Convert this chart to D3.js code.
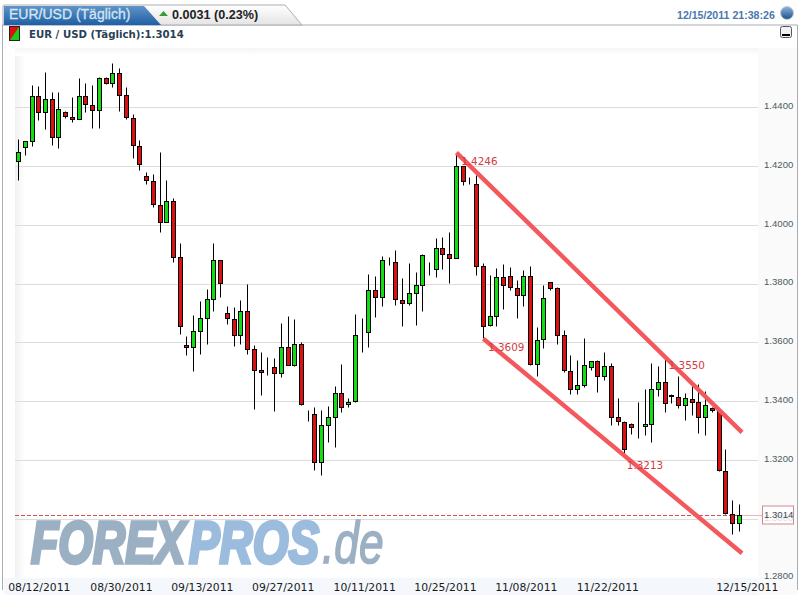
<!DOCTYPE html>
<html><head><meta charset="utf-8">
<script src="https://cdn.jsdelivr.net/npm/d3@7"></script>
<style>html,body{margin:0;padding:0;background:#fff;overflow:hidden}svg{display:block}</style>
</head><body><svg id="c" width="801" height="595"></svg>
<script>
const highs=[1.4292,1.4286,1.4475,1.4470,1.4519,1.4451,1.4451,1.4385,1.4434,1.4499,
1.4482,1.4475,1.4502,1.4502,1.4550,1.4533,1.4468,1.4377,1.4288,1.4178,
1.4174,1.4247,1.4151,1.4091,1.3938,1.3622,1.3693,1.3741,1.3783,1.3938,
1.3880,1.3722,1.3720,1.3744,1.3798,1.3591,1.3567,1.3550,1.3547,1.3666,
1.3690,1.3679,1.3601,1.3370,1.3380,1.3370,1.3384,1.3452,1.3525,1.3411,
1.3698,1.3683,1.3833,1.3826,1.3894,1.3889,1.3914,1.3819,1.3870,1.3839,
1.3900,1.3873,1.3955,1.3959,1.3975,1.4244,1.4201,1.4162,1.4169,1.3870,
1.3828,1.3854,1.3867,1.3856,1.3812,1.3846,1.3860,1.3652,1.3795,1.3805,
1.3788,1.3642,1.3557,1.3540,1.3615,1.3537,1.3540,1.3567,1.3530,1.3411,
1.3333,1.3326,1.3397,1.3441,1.3530,1.3520,1.3550,1.3424,1.3486,1.3428,
1.3452,1.3458,1.3435,1.3380,1.3377,1.3237,1.3064,1.3050];
const lows=[1.4152,1.4238,1.4266,1.4356,1.4325,1.4272,1.4261,1.4363,1.4349,1.4359,
1.4382,1.4329,1.4329,1.4477,1.4467,1.4385,1.4360,1.4227,1.4185,1.4138,
1.4060,1.3975,1.4009,1.3874,1.3628,1.3557,1.3503,1.3560,1.3594,1.3707,
1.3754,1.3664,1.3589,1.3594,1.3560,1.3374,1.3421,1.3490,1.3365,1.3481,
1.3523,1.3520,1.3387,1.3333,1.3165,1.3149,1.3260,1.3243,1.3362,1.3379,
1.3396,1.3567,1.3584,1.3686,1.3724,1.3863,1.3727,1.3654,1.3727,1.3659,
1.3705,1.3830,1.3823,1.3851,1.3802,1.3886,1.4136,1.4138,1.3830,1.3615,
1.3657,1.3656,1.3713,1.3778,1.3683,1.3724,1.3523,1.3486,1.3581,1.3778,
1.3594,1.3499,1.3423,1.3424,1.3448,1.3506,1.3431,1.3472,1.3320,1.3318,
1.3212,1.3288,1.3275,1.3285,1.3261,1.3418,1.3364,1.3394,1.3377,1.3335,
1.3353,1.3292,1.3284,1.3362,1.3163,1.3017,1.2948,1.2959];
const opens=[1.4215,1.4264,1.4283,1.4438,1.4383,1.4427,1.4298,1.4383,1.4366,1.4359,
1.4438,1.4407,1.4390,1.4499,1.4482,1.4516,1.4441,1.4363,1.4268,1.4166,
1.4149,1.4067,1.4009,1.4081,1.3890,1.3591,1.3584,1.3639,1.3683,1.3747,
1.3880,1.3700,1.3679,1.3625,1.3707,1.3577,1.3506,1.3516,1.3516,1.3496,
1.3584,1.3523,1.3594,1.3355,1.3356,1.3193,1.3319,1.3346,1.3428,1.3390,
1.3401,1.3630,1.3635,1.3778,1.3754,1.3873,1.3873,1.3744,1.3734,1.3768,
1.3795,1.3849,1.3849,1.3921,1.3900,1.3887,1.4200,1.4140,1.4138,1.3860,
1.3659,1.3690,1.3822,1.3826,1.3785,1.3761,1.3826,1.3526,1.3611,1.3805,
1.3785,1.3625,1.3503,1.3441,1.3455,1.3516,1.3537,1.3486,1.3520,1.3346,
1.3329,1.3322,1.3314,1.3316,1.3322,1.3441,1.3465,1.3421,1.3414,1.3387,
1.3407,1.3397,1.3346,1.3377,1.3370,1.3163,1.3016,1.2986];
const closes=[1.4247,1.4285,1.4438,1.4383,1.4427,1.4298,1.4393,1.4370,1.4359,1.4438,
1.4410,1.4390,1.4499,1.4482,1.4516,1.4441,1.4365,1.4271,1.4206,1.4152,
1.4070,1.4009,1.4081,1.3890,1.3656,1.3584,1.3639,1.3683,1.3747,1.3880,
1.3802,1.3683,1.3625,1.3707,1.3577,1.3506,1.3499,1.3516,1.3496,1.3584,
1.3523,1.3594,1.3390,1.3355,1.3193,1.3319,1.3346,1.3428,1.3380,1.3397,
1.3625,1.3630,1.3778,1.3754,1.3880,1.3873,1.3747,1.3734,1.3768,1.3795,
1.3897,1.3849,1.3921,1.3900,1.3887,1.4200,1.4149,1.4140,1.3860,1.3656,
1.3690,1.3822,1.3795,1.3788,1.3761,1.3826,1.3526,1.3608,1.3751,1.3785,
1.3625,1.3506,1.3441,1.3455,1.3523,1.3537,1.3486,1.3520,1.3346,1.3333,
1.3237,1.3312,1.3314,1.3322,1.3441,1.3465,1.3394,1.3416,1.3387,1.3411,
1.3397,1.3346,1.3387,1.3370,1.3166,1.3020,1.2986,1.3014];
const yTicks=[1.28,1.30,1.32,1.34,1.36,1.38,1.40,1.42,1.44];
const dateLabels=["08/12/2011","08/30/2011","09/13/2011","09/27/2011","10/11/2011","10/25/2011","11/08/2011","11/22/2011","12/15/2011"];
const dateBars=[3,15.2,27.2,39.2,51.3,63.3,75.3,87.4,108.1];
const lastPrice=1.3014;
const channels=[{from:[65,1.4246],to:[107.4,1.3295]},{from:[69,1.3613],to:[107.4,1.2884]}];
const notes=[{bar:68.4,price:1.4204,label:"1.4246"},{bar:72.4,price:1.3570,label:"1.3609"},{bar:99.2,price:1.3510,label:"1.3550"},{bar:93,price:1.3171,label:"1.3213"}];

const svg=d3.select("#c");
const defs=svg.append("defs");
function grad(id,stops,x2,y2){const g=defs.append("linearGradient").attr("id",id).attr("x1",0).attr("y1",0).attr("x2",x2).attr("y2",y2);
 stops.forEach(s=>g.append("stop").attr("offset",s[0]).attr("stop-color",s[1]));}
grad("tabBlue",[[0,"#5f94c6"],[1,"#1f5fa6"]],0,1);
grad("tabGray",[[0,"#ffffff"],[1,"#e4e4e4"]],0,1);
grad("edgeL",[[0,"#f1f1f1"],[1,"#ffffff"]],1,0);
grad("edgeT",[[0,"#f6f6f6"],[1,"#ffffff"]],0,1);
grad("orb",[[0,"#8fb4dc"],[1,"#1c4f8c"]],0,1);

const x=d3.scaleLinear().domain([0,107]).range([18.58,739.33]);
const y=d3.scaleLinear().domain([1.28,1.44]).range([577.9,107.35]);
const px=v=>Math.floor(x(v))+.5, py=v=>Math.round(y(v)-.3)+.5;

// frame
svg.append("path").attr("d","M2.5,590 V25 H797.5 V590").attr("fill","none").attr("stroke","#a9adb3");
svg.append("path").attr("d","M3,25 V6 Q3,5 5,5 H285 L302,25 Z").attr("fill","url(#tabGray)").attr("stroke","#a9adb3");
svg.append("path").attr("d","M4,25 V6 H144 L161,25 Z").attr("fill","url(#tabBlue)");
svg.append("text").attr("x",9).attr("y",19).attr("font-family","Liberation Sans").attr("font-size",14).attr("fill","#d5e5f3").attr("stroke","#d5e5f3").attr("stroke-width",.3).text("EUR/USD (Täglich)");
svg.append("path").attr("d","M159,16 L163.5,11 L168,16 Z").attr("fill","#3c9a3c");
svg.append("text").attr("x",172).attr("y",19).attr("font-family","Liberation Sans").attr("font-size",12.6).attr("font-weight","bold").attr("fill","#222").text("0.0031 (0.23%)");
svg.append("text").attr("x",677).attr("y",18.5).attr("font-family","Liberation Sans").attr("font-size",10.6).attr("font-weight","bold").attr("fill","#4a78ab").text("12/15/2011 21:38:26");
svg.append("circle").attr("cx",787).attr("cy",13).attr("r",6.5).attr("fill","url(#orb)").attr("stroke","#c5ccd5");
svg.append("rect").attr("x",780.5).attr("y",26.5).attr("width",11).attr("height",11).attr("rx",2).attr("fill","#f2f2f2").attr("stroke","#555");
svg.append("rect").attr("x",782).attr("y",34).attr("width",8).attr("height",2).attr("fill","#000");
svg.append("rect").attr("x",9.5).attr("y",26.5).attr("width",10).attr("height",14).attr("fill","#18d018").attr("stroke","#222");
svg.append("path").attr("d","M10,27 H19 L10,40 Z").attr("fill","#e01010");
svg.append("text").attr("x",29).attr("y",37.5).attr("font-family","DejaVu Sans").attr("font-size",10.2).attr("font-weight","bold").attr("fill","#2a3f55").text("EUR / USD (Täglich):1.3014");

// plot backgrounds
svg.append("rect").attr("x",15).attr("y",48).attr("width",10).attr("height",530).attr("fill","url(#edgeL)");
svg.append("rect").attr("x",15).attr("y",48).attr("width",743).attr("height",8).attr("fill","url(#edgeT)");
svg.append("rect").attr("x",4).attr("y",578).attr("width",793).attr("height",17).attr("fill","#f4f8fc");
svg.append("rect").attr("x",758).attr("y",48).attr("width",39).attr("height",547).attr("fill","#fafafa");

// grid
svg.append("g").selectAll("line").data(yTicks.slice(1)).join("line")
 .attr("x1",15).attr("x2",758).attr("y1",py).attr("y2",py).attr("stroke","#dcdcdc");

// watermark
const wm=svg.append("g").attr("font-family","Liberation Sans").attr("font-style","italic");
function mark(t,x0,sx,size,col,w,stroke){wm.append("text").attr("transform",`translate(${x0},563) scale(${sx},1)`).attr("font-size",size).attr("font-weight",w).attr("fill",col).attr("stroke",col).attr("stroke-width",stroke).text(t);}
mark("FOREX",31,0.745,60,"#9cb0c4","bold",3.6);
mark("PROS",189,0.765,60,"#9bbcdd","bold",3.6);
mark(".de",322,0.74,60,"#9cb0c4","normal",1.6);

// y axis
const yAxis=d3.axisRight(y).tickValues(yTicks).tickSize(0).tickPadding(0).tickFormat(d3.format(".4f"));
const ya=svg.append("g").attr("transform","translate(764,-2)").call(yAxis);
ya.select(".domain").remove();
ya.selectAll("text").attr("font-family","Liberation Sans").attr("font-size",9.6).attr("fill","#4a5a62");

// x axis
const xAxis=d3.axisBottom(x).tickValues(dateBars).tickSize(0).tickPadding(0).tickFormat((d,i)=>dateLabels[i]);
const xa=svg.append("g").attr("transform","translate(0,583)").call(xAxis);
xa.select(".domain").remove();
xa.selectAll("text").attr("font-family","DejaVu Sans").attr("font-size",10.8).attr("fill","#1a1a1a");

// last price
const yLast=Math.round(y(lastPrice)-.3)+.5;
svg.append("line").attr("x1",15).attr("x2",758).attr("y1",yLast).attr("y2",yLast).attr("stroke","#d05050").attr("stroke-dasharray","4,2");
svg.append("line").attr("x1",739).attr("x2",762).attr("y1",yLast).attr("y2",yLast).attr("stroke","#eeb5b5");
svg.append("rect").attr("x",762.5).attr("y",yLast-9.5).attr("width",31).attr("height",18).attr("fill","#fff").attr("fill-opacity",.78).attr("stroke","#d48a8a");
svg.append("text").attr("x",764).attr("y",yLast+2.5).attr("font-family","Liberation Sans").attr("font-size",9.6).attr("fill","#3d4a50").text(d3.format(".4f")(lastPrice));

// candles
const bars=d3.range(closes.length);
const g=svg.append("g");
g.selectAll("line").data(bars).join("line")
 .attr("x1",px).attr("x2",px).attr("y1",i=>py(highs[i])).attr("y2",i=>py(lows[i])).attr("stroke","#000");
g.selectAll("rect").data(bars).join("rect")
 .attr("x",i=>px(i)-2).attr("width",4)
 .attr("y",i=>py(Math.max(opens[i],closes[i])))
 .attr("height",i=>py(Math.min(opens[i],closes[i]))-py(Math.max(opens[i],closes[i])))
 .attr("fill",i=>closes[i]>opens[i]?"#12dc12":"#dc1010").attr("stroke","#000");

// channel lines
svg.append("g").selectAll("line").data(channels).join("line")
 .attr("x1",d=>x(d.from[0])).attr("y1",d=>y(d.from[1])).attr("x2",d=>x(d.to[0])).attr("y2",d=>y(d.to[1]))
 .attr("stroke","#f2585c").attr("stroke-width",4.4);

// notes
svg.append("g").selectAll("text").data(notes).join("text")
 .attr("x",d=>x(d.bar)).attr("y",d=>y(d.price)).attr("text-anchor","middle")
 .attr("font-family","DejaVu Sans").attr("font-size",10.4).attr("fill","#d23c42").text(d=>d.label);
</script></body></html>
